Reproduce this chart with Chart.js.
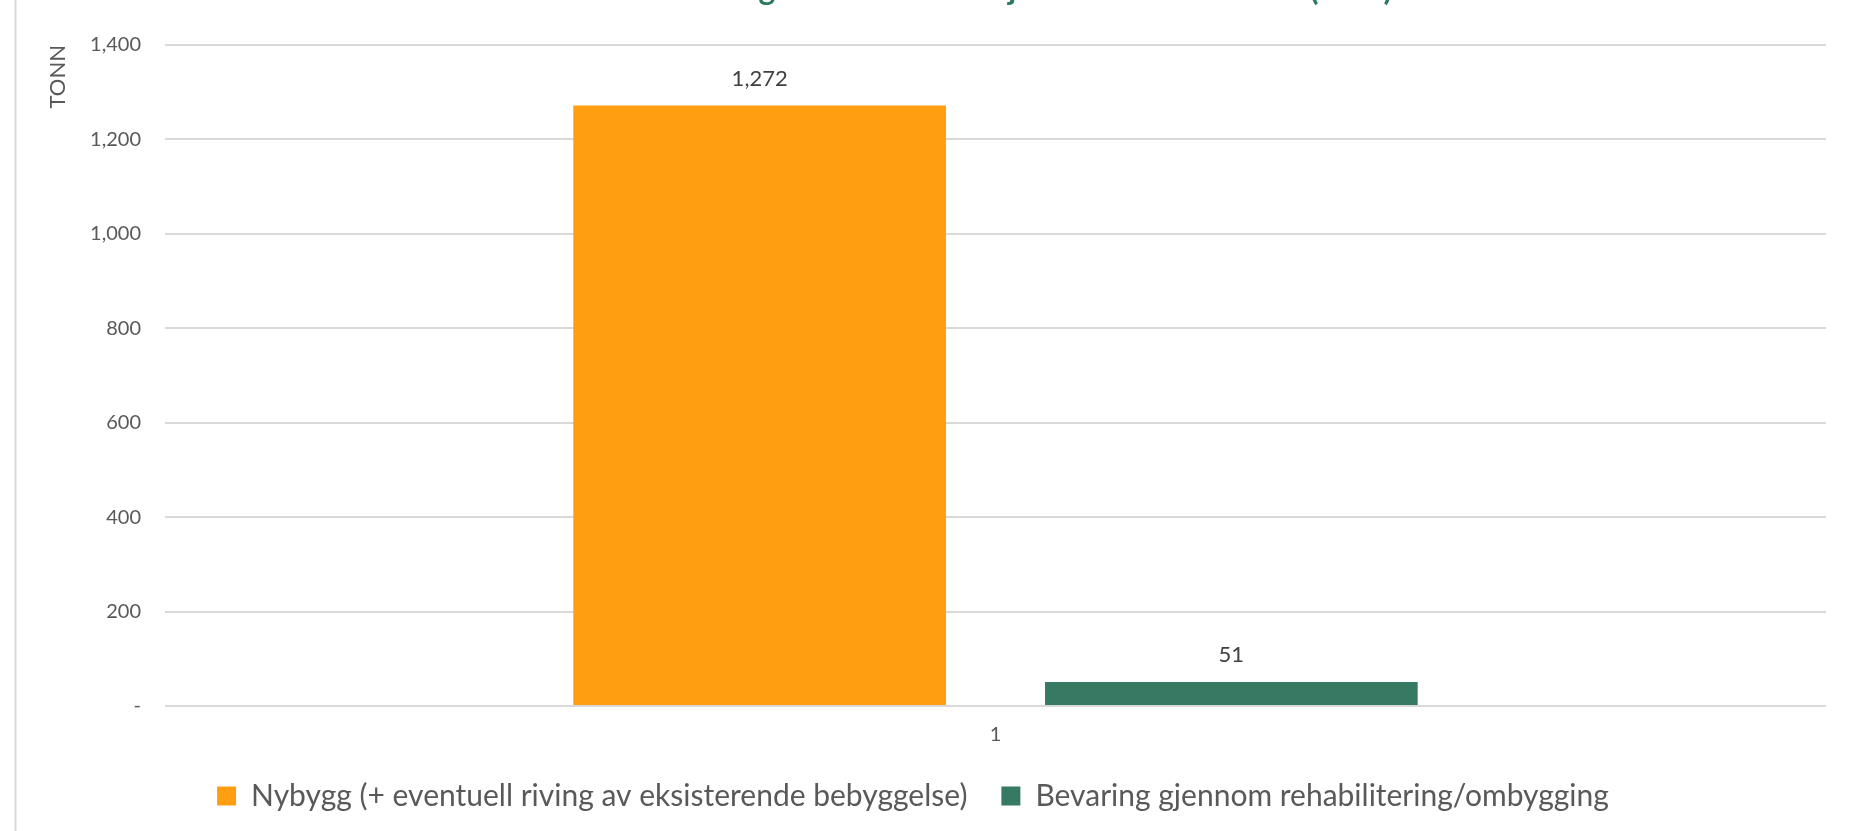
<!DOCTYPE html>
<html>
<head>
<meta charset="utf-8">
<script src="https://cdn.jsdelivr.net/npm/chart.js@4.4.1/dist/chart.umd.min.js"></script>
<style>
    html, body { margin: 0; padding: 0; background: #fff; overflow: hidden; }
    #chart { display: block; }
</style>
</head>
<body>
<canvas id="chart" width="1850" height="831"></canvas>
<script>
const titleText = 'Klimagasser fra hele objektet over levetiden (tonn)';
const categories = ['1'];
const seriesNames = [
    'Nybygg (+ eventuell riving av eksisterende bebyggelse)',
    'Bevaring gjennom rehabilitering/ombygging'
];
const nybyggValues = [1272];
const bevaringValues = [51];
const yTicks = [0, 200, 400, 600, 800, 1000, 1200, 1400];

const textColor = '#595959';
const gridColor = '#d9d9d9';
const font = 'Lato';

function formatNumber(v) {
    return v === 0 ? '-' : v.toLocaleString('en-US');
}

// value labels above each bar, like Excel data labels
const barLabels = {
    id: 'barLabels',
    afterDatasetsDraw(chart) {
        const ctx = chart.ctx;
        ctx.save();
        ctx.font = '22px ' + font;
        ctx.fillStyle = '#404040';
        ctx.textAlign = 'center';
        ctx.textBaseline = 'middle';
        chart.data.datasets.forEach((ds, i) => {
            chart.getDatasetMeta(i).data.forEach((bar, j) => {
                ctx.fillText(formatNumber(ds.data[j]), bar.x, bar.y - 27);
            });
        });
        ctx.restore();
    }
};

// frame line on the left and the title, which is cut off at the top edge
const frame = {
    id: 'frame',
    beforeDraw(chart) {
        const ctx = chart.ctx;
        ctx.save();
        ctx.strokeStyle = gridColor;
        ctx.lineWidth = 2;
        ctx.beginPath();
        ctx.moveTo(15.5, 0);
        ctx.lineTo(15.5, chart.height);
        ctx.stroke();

        ctx.font = 'bold 32px ' + font;
        ctx.fillStyle = '#2f7a5f';
        ctx.textAlign = 'left';
        ctx.textBaseline = 'alphabetic';
        // title starts so that its first "g" sits where it does in the original
        const x0 = 767 - ctx.measureText('Klima').width - ctx.measureText('g').width / 2;
        ctx.fillText(titleText, x0, 0);
        ctx.restore();
    }
};

new Chart(document.getElementById('chart'), {
    type: 'bar',
    data: {
        labels: categories,
        datasets: [
            {
                label: seriesNames[0],
                data: nybyggValues,
                backgroundColor: '#ff9e11',
                barPercentage: 0.79,
                categoryPercentage: 0.568
            },
            {
                label: seriesNames[1],
                data: bevaringValues,
                backgroundColor: '#367a63',
                barPercentage: 0.79,
                categoryPercentage: 0.568
            }
        ]
    },
    options: {
        responsive: false,
        animation: false,
        layout: {
            padding: { left: 0, right: 24, top: 45, bottom: 10 }
        },
        plugins: {
            title: { display: false },
            legend: {
                position: 'bottom',
                labels: {
                    color: textColor,
                    font: { family: font, size: 30 },
                    boxWidth: 19,
                    boxHeight: 19,
                    padding: 34
                }
            },
            tooltip: { enabled: false }
        },
        scales: {
            x: {
                afterFit(scale) {
                    scale.height = 41;
                },
                grid: { display: false, drawTicks: false },
                border: { display: false },
                ticks: {
                    color: textColor,
                    font: { family: font, size: 20 },
                    padding: 17
                }
            },
            y: {
                min: 0,
                max: 1400,
                afterBuildTicks(scale) {
                    scale.ticks = yTicks.map(v => ({ value: v }));
                },
                afterFit(scale) {
                    scale.width = 165;
                },
                grid: {
                    color: gridColor,
                    lineWidth: 2,
                    drawTicks: false
                },
                border: { display: false },
                ticks: {
                    color: textColor,
                    font: { family: font, size: 20 },
                    padding: 24,
                    callback: v => formatNumber(v)
                },
                title: {
                    display: true,
                    text: 'TONN',
                    align: 'end',
                    color: textColor,
                    font: { family: font, size: 22 },
                    padding: { top: 45, bottom: 0 }
                }
            }
        }
    },
    plugins: [barLabels, frame]
});
</script>
</body>
</html>
